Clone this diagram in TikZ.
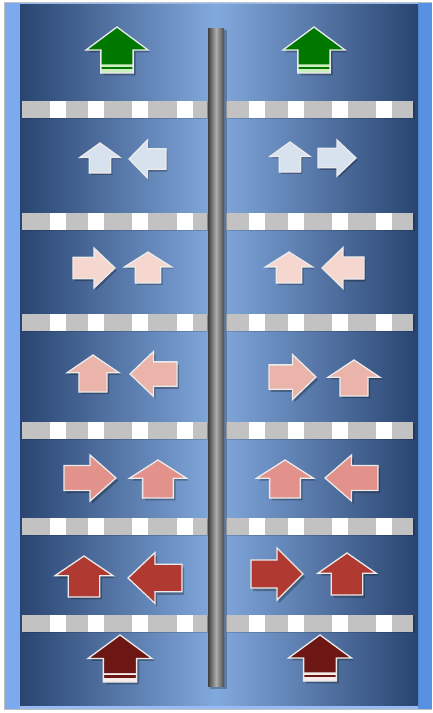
\documentclass[tikz,border=0pt]{standalone}
\definecolor{dk}{HTML}{294470}
\definecolor{lt}{HTML}{82A9DE}
\definecolor{stripL}{HTML}{7DAAEF}
\definecolor{stripR}{HTML}{5890E2}
\definecolor{barg}{HTML}{C2C2C2}
\definecolor{cgreen}{HTML}{007800}
\definecolor{lgreen}{HTML}{CDEFC0}
\definecolor{cblue}{HTML}{D8E2EF}
\definecolor{cpinka}{HTML}{F5D7CF}
\definecolor{cpinkb}{HTML}{EBB4AB}
\definecolor{cpinkc}{HTML}{E2928A}
\definecolor{cred}{HTML}{B03A32}
\definecolor{cmaroon}{HTML}{6C1714}
\definecolor{lmaroon}{HTML}{F6ECEC}
\tikzset{
  arrowline/.style={draw=white!92!black, line width=1.3pt, line join=miter},
  shadowfill/.style={fill=black, opacity=0.28},
  barstyle/.style={fill=barg},
  sqstyle/.style={fill=white}
}
% up arrow: cx, top, width, height, colour
\newcommand{\UpArr}[5]{%
  \begin{scope}[shift={(#1,#2)}, xscale=#3, yscale=#4]
    \begin{scope}[shift={(0.04,0.06)}]
      \path[shadowfill] (0,0) -- (0.5,0.48) -- (0.27,0.48) -- (0.27,1) -- (-0.27,1) -- (-0.27,0.48) -- (-0.5,0.48) -- cycle;
    \end{scope}
    \path[fill=#5, arrowline] (0,0) -- (0.5,0.48) -- (0.27,0.48) -- (0.27,1) -- (-0.27,1) -- (-0.27,0.48) -- (-0.5,0.48) -- cycle;
  \end{scope}}
% horizontal arrow: tipx, cy, signed length (positive = points left), height, colour, shadow x shift
\newcommand{\HArr}[6]{%
  \begin{scope}[shift={(#1,#2)}, xscale=#3, yscale=#4]
    \begin{scope}[shift={(#6,0.06)}]
      \path[shadowfill] (0,0) -- (0.5,-0.5) -- (0.5,-0.27) -- (1,-0.27) -- (1,0.27) -- (0.5,0.27) -- (0.5,0.5) -- cycle;
    \end{scope}
    \path[fill=#5, arrowline] (0,0) -- (0.5,-0.5) -- (0.5,-0.27) -- (1,-0.27) -- (1,0.27) -- (0.5,0.27) -- (0.5,0.5) -- cycle;
  \end{scope}}
% striped up arrow: cx, top, width, height, colour, light colour
\newcommand{\StripeArr}[6]{%
  \begin{scope}[shift={(#1,#2)}, xscale=#3, yscale=#4]
    \begin{scope}[shift={(0.04,0.05)}]
      \path[shadowfill] (0,0) -- (0.5,0.5) -- (0.26,0.5) -- (0.26,1) -- (-0.26,1) -- (-0.26,0.5) -- (-0.5,0.5) -- cycle;
    \end{scope}
    \path[fill=#6] (0,0) -- (0.5,0.5) -- (0.26,0.5) -- (0.26,1) -- (-0.26,1) -- (-0.26,0.5) -- (-0.5,0.5) -- cycle;
    \path[fill=#5] (0,0) -- (0.5,0.5) -- (0.26,0.5) -- (0.26,0.81) -- (-0.26,0.81) -- (-0.26,0.5) -- (-0.5,0.5) -- cycle;
    \path[fill=#5] (-0.26,0.86) rectangle (0.26,0.91);
    \path[arrowline] (0,0) -- (0.5,0.5) -- (0.26,0.5) -- (0.26,1) -- (-0.26,1) -- (-0.26,0.5) -- (-0.5,0.5) -- cycle;
  \end{scope}}
\begin{document}
\begin{tikzpicture}[x=1pt,y=-1pt]
  \useasboundingbox (0,0) rectangle (432,713);
  \fill[white] (0,0) rectangle (432,713);
  % outer frame strips
  \fill[gray!50] (4,2) rectangle (432,710);
  \fill[stripL] (5,3) rectangle (21,709);
  \fill[stripR] (417,3) rectangle (432,709);
  \fill[stripL!80!white] (20,3) rectangle (418,709);
  % panels
  \shade[left color=dk, right color=lt] (20,4) rectangle (216,705);
  \shade[left color=lt, right color=dk] (216,4) rectangle (418,705);
  % shelves
  \foreach \y in {109,221,322,430,526,623}{
    \fill[black,opacity=0.15] (23,\y-7) rectangle (209,\y+10);
    \fill[black,opacity=0.15] (227,\y-7) rectangle (415,\y+10);
    \fill[barstyle] (22,\y-8.5) rectangle (207,\y+8.5);
    \fill[barstyle] (226,\y-8.5) rectangle (413,\y+8.5);
    \foreach \s in {50,88,132,177}{\fill[sqstyle] (\s,\y-8.5) rectangle (\s+16,\y+8.5);}
    \foreach \s in {249,288,332,376}{\fill[sqstyle] (\s,\y-8.5) rectangle (\s+16,\y+8.5);}
  }
  % central rod
  \fill[black,opacity=0.25] (210,30) rectangle (227,689);
  \shade[left color=black!75, right color=black!70, middle color=black!32] (208,28) rectangle (224,686);
  % row 0 (green)
  \StripeArr{117}{27}{62}{46}{cgreen}{lgreen}
  \StripeArr{314}{27}{62}{46}{cgreen}{lgreen}
  % row 1 (light blue)
  \UpArr{100}{143}{40}{30}{cblue}
  \HArr{129}{159}{37}{38}{cblue}{0.04}
  \UpArr{290}{142}{40}{30}{cblue}
  \HArr{356}{158}{-38}{36}{cblue}{-0.04}
  % row 2
  \HArr{115}{268}{-42}{40}{cpinka}{-0.04}
  \UpArr{148}{252}{47}{31}{cpinka}
  \UpArr{289}{252}{47}{31}{cpinka}
  \HArr{322}{268}{42}{41}{cpinka}{0.04}
  % row 3
  \UpArr{93}{355}{52}{37}{cpinkb}
  \HArr{130}{374}{47}{45}{cpinkb}{0.04}
  \HArr{316}{377}{-47}{45}{cpinkb}{-0.04}
  \UpArr{354}{360}{52}{36}{cpinkb}
  % row 4
  \HArr{116}{478}{-52}{46}{cpinkc}{-0.04}
  \UpArr{158}{460}{57}{38}{cpinkc}
  \UpArr{285}{460}{57}{38}{cpinkc}
  \HArr{325}{478}{53}{46}{cpinkc}{0.04}
  % row 5
  \UpArr{84}{556}{58}{41}{cred}
  \HArr{128}{578}{54}{51}{cred}{0.04}
  \HArr{303}{574}{-52}{52}{cred}{-0.04}
  \UpArr{347}{553}{58}{42}{cred}
  % row 6 (maroon)
  \StripeArr{120}{635}{64}{47}{cmaroon}{lmaroon}
  \StripeArr{320}{635}{63}{46}{cmaroon}{lmaroon}
\end{tikzpicture}
\end{document}
